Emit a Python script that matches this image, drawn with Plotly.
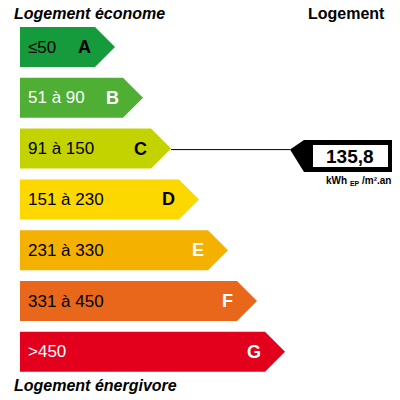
import plotly.graph_objects as go

letters = ["A", "B", "C", "D", "E", "F", "G"]
ranges = ["≤50", "51 à 90", "91 à 150", "151 à 230", "231 à 330", "331 à 450", ">450"]
colors = ["#159a3c", "#4fae34", "#c3d300", "#fcd700", "#f5b100", "#e9671b", "#e3001c"]
bar_ends = [115, 143, 171, 199, 228, 257, 285]
range_colors = ["black", "white", "black", "black", "black", "black", "white"]
letter_colors = ["black", "white", "black", "black", "white", "white", "white"]
value = "135,8"
value_class = 2
unit_text = "kWh <sub>EP</sub> /m².an"
title_top = "Logement économe"
title_bottom = "Logement énergivore"
title_right = "Logement"

fig = go.Figure()
x0, h, gap, y_start, tip = 20, 40, 10.8, 27, 20
for i, (L, r, c, e) in enumerate(zip(letters, ranges, colors, bar_ends)):
    y0 = y_start + i * (h + gap)
    y1 = y0 + h
    ym = (y0 + y1) / 2
    fig.add_trace(go.Scatter(x=[x0, e - tip, e, e - tip, x0, x0], y=[y0, y0, ym, y1, y1, y0],
                             fill="toself", fillcolor=c, mode="lines", line=dict(width=0),
                             hoverinfo="skip", showlegend=False))
    fig.add_annotation(x=x0 + 6, y=ym, text=r, showarrow=False, xanchor="left",
                       font=dict(family="Liberation Sans", size=17, color=range_colors[i]))
    fig.add_annotation(x=e - tip - 2, y=ym, text="<b>" + L + "</b>", showarrow=False, xanchor="right",
                       font=dict(family="Liberation Sans", size=18, color=letter_colors[i]))

ym = y_start + value_class * (h + gap) + h / 2 + 1
fig.add_trace(go.Scatter(x=[bar_ends[value_class], 290], y=[ym, ym], mode="lines",
                         line=dict(color="black", width=1), hoverinfo="skip", showlegend=False))
fig.add_trace(go.Scatter(x=[290, 304, 392, 392, 304, 290], y=[ym, 140, 140, 172, 172, ym],
                         fill="toself", fillcolor="black", mode="lines", line=dict(width=0, color="black"),
                         hoverinfo="skip", showlegend=False))
fig.add_trace(go.Scatter(x=[313, 388, 388, 313, 313], y=[145, 145, 167, 167, 145],
                         fill="toself", fillcolor="white", mode="lines", line=dict(width=0),
                         hoverinfo="skip", showlegend=False))
fig.add_annotation(x=350, y=156.5, text="<b>" + value + "</b>", showarrow=False,
                   font=dict(family="Liberation Sans", size=19, color="black"))
fig.add_annotation(x=393, y=181, text="<b>" + unit_text + "</b>", showarrow=False, xanchor="right",
                   font=dict(family="Liberation Sans", size=10, color="black"))
fig.add_annotation(x=12, y=13, text="<b><i>" + title_top + "</i></b>", showarrow=False, xanchor="left",
                   font=dict(family="Liberation Sans", size=16, color="black"))
fig.add_annotation(x=387, y=13, text="<b>" + title_right + "</b>", showarrow=False, xanchor="right",
                   font=dict(family="Liberation Sans", size=16, color="black"))
fig.add_annotation(x=12, y=385, text="<b><i>" + title_bottom + "</i></b>", showarrow=False, xanchor="left",
                   font=dict(family="Liberation Sans", size=16, color="black"))

fig.update_layout(width=392, height=392, margin=dict(l=0, r=0, t=0, b=0),
                  paper_bgcolor="white", plot_bgcolor="white",
                  xaxis=dict(range=[8, 400], visible=False, fixedrange=True),
                  yaxis=dict(range=[400, 8], visible=False, fixedrange=True))
fig.write_html("out.html")
